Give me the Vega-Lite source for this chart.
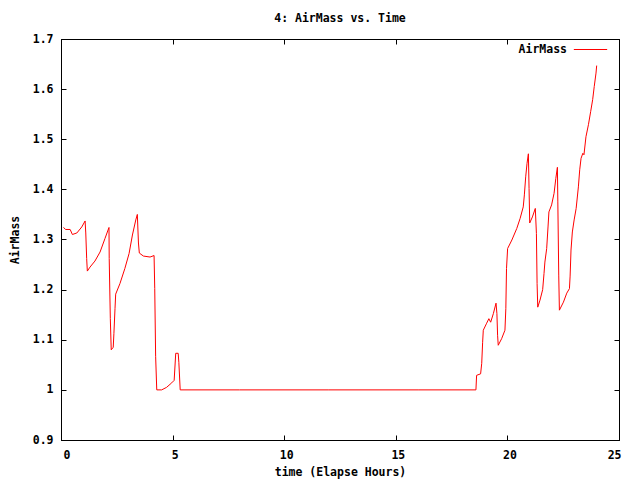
{
  "$schema": "https://vega.github.io/schema/vega-lite/v6.json",
  "width": 558,
  "height": 401,
  "autosize": {"type": "none"},
  "padding": {"left": 61, "top": 39, "right": 21, "bottom": 40},
  "background": "white",
  "title": {"text": "4: AirMass vs. Time", "font": "DejaVu Sans Mono", "fontSize": 11.5, "fontWeight": "bold", "color": "black", "anchor": "middle", "offset": 8},
  "config": {
    "view": {"stroke": "black", "strokeWidth": 1},
    "axis": {"labelFont": "DejaVu Sans Mono", "labelFontSize": 11.5, "labelFontWeight": "bold", "labelColor": "black", "titleFont": "DejaVu Sans Mono", "titleFontSize": 11.5, "titleFontWeight": "bold", "titleColor": "black", "domainColor": "black", "tickColor": "black", "tickSize": -5, "grid": false},
    "legend": {"labelFont": "DejaVu Sans Mono", "labelFontSize": 11.5, "labelFontWeight": "bold", "labelColor": "black"}
  },
  "data": {"values": [
    {"t": 0.11, "v": 1.324}, {"t": 0.21, "v": 1.320}, {"t": 0.41, "v": 1.320}, {"t": 0.51, "v": 1.310},
    {"t": 0.71, "v": 1.313}, {"t": 0.93, "v": 1.325}, {"t": 1.08, "v": 1.337}, {"t": 1.11, "v": 1.313},
    {"t": 1.15, "v": 1.262}, {"t": 1.18, "v": 1.237}, {"t": 1.30, "v": 1.245}, {"t": 1.52, "v": 1.257},
    {"t": 1.75, "v": 1.275}, {"t": 1.97, "v": 1.302}, {"t": 2.15, "v": 1.324}, {"t": 2.16, "v": 1.262},
    {"t": 2.21, "v": 1.142}, {"t": 2.25, "v": 1.080}, {"t": 2.34, "v": 1.085}, {"t": 2.37, "v": 1.112},
    {"t": 2.42, "v": 1.162}, {"t": 2.45, "v": 1.191}, {"t": 2.64, "v": 1.212}, {"t": 2.86, "v": 1.242},
    {"t": 3.05, "v": 1.272}, {"t": 3.20, "v": 1.309}, {"t": 3.35, "v": 1.339}, {"t": 3.42, "v": 1.350},
    {"t": 3.47, "v": 1.293}, {"t": 3.51, "v": 1.273}, {"t": 3.69, "v": 1.267}, {"t": 3.99, "v": 1.265},
    {"t": 4.17, "v": 1.268}, {"t": 4.20, "v": 1.202}, {"t": 4.24, "v": 1.067}, {"t": 4.29, "v": 1.000},
    {"t": 4.51, "v": 1.000}, {"t": 4.73, "v": 1.005}, {"t": 4.96, "v": 1.014}, {"t": 5.07, "v": 1.019},
    {"t": 5.14, "v": 1.073}, {"t": 5.25, "v": 1.073}, {"t": 5.28, "v": 1.055}, {"t": 5.34, "v": 1.000},
    {"t": 8.0, "v": 1.000}, {"t": 12.0, "v": 1.000}, {"t": 16.0, "v": 1.000},
    {"t": 18.59, "v": 1.000}, {"t": 18.62, "v": 1.029}, {"t": 18.80, "v": 1.032}, {"t": 18.85, "v": 1.053},
    {"t": 18.89, "v": 1.095}, {"t": 18.92, "v": 1.119}, {"t": 19.07, "v": 1.133}, {"t": 19.17, "v": 1.142},
    {"t": 19.25, "v": 1.135}, {"t": 19.37, "v": 1.152}, {"t": 19.49, "v": 1.173}, {"t": 19.53, "v": 1.152},
    {"t": 19.56, "v": 1.109}, {"t": 19.59, "v": 1.089}, {"t": 19.74, "v": 1.102}, {"t": 19.89, "v": 1.119},
    {"t": 19.93, "v": 1.162}, {"t": 19.96, "v": 1.242}, {"t": 20.01, "v": 1.282}, {"t": 20.20, "v": 1.299},
    {"t": 20.42, "v": 1.322}, {"t": 20.57, "v": 1.342}, {"t": 20.71, "v": 1.365}, {"t": 20.76, "v": 1.389},
    {"t": 20.82, "v": 1.425}, {"t": 20.88, "v": 1.452}, {"t": 20.94, "v": 1.471}, {"t": 20.97, "v": 1.402},
    {"t": 21.00, "v": 1.333}, {"t": 21.12, "v": 1.345}, {"t": 21.25, "v": 1.362}, {"t": 21.30, "v": 1.312},
    {"t": 21.33, "v": 1.212}, {"t": 21.36, "v": 1.165}, {"t": 21.46, "v": 1.179}, {"t": 21.58, "v": 1.200},
    {"t": 21.64, "v": 1.232}, {"t": 21.68, "v": 1.255}, {"t": 21.76, "v": 1.282}, {"t": 21.82, "v": 1.325},
    {"t": 21.86, "v": 1.355}, {"t": 21.98, "v": 1.369}, {"t": 22.09, "v": 1.392}, {"t": 22.17, "v": 1.422},
    {"t": 22.24, "v": 1.444}, {"t": 22.26, "v": 1.375}, {"t": 22.30, "v": 1.229}, {"t": 22.33, "v": 1.159},
    {"t": 22.51, "v": 1.175}, {"t": 22.66, "v": 1.193}, {"t": 22.78, "v": 1.202}, {"t": 22.81, "v": 1.227},
    {"t": 22.85, "v": 1.279}, {"t": 22.91, "v": 1.315}, {"t": 22.99, "v": 1.339}, {"t": 23.08, "v": 1.362},
    {"t": 23.18, "v": 1.405}, {"t": 23.24, "v": 1.439}, {"t": 23.30, "v": 1.462}, {"t": 23.38, "v": 1.472},
    {"t": 23.43, "v": 1.469}, {"t": 23.52, "v": 1.505}, {"t": 23.63, "v": 1.529}, {"t": 23.73, "v": 1.555},
    {"t": 23.82, "v": 1.579}, {"t": 23.89, "v": 1.605}, {"t": 23.97, "v": 1.632}, {"t": 24.00, "v": 1.647}
  ]},
  "transform": [{"calculate": "'AirMass'", "as": "series"}],
  "layer": [
    {
      "mark": {"type": "line", "strokeWidth": 1, "interpolate": "linear"},
      "encoding": {
        "x": {"field": "t", "type": "quantitative", "scale": {"domain": [0, 25], "nice": false, "zero": false}, "axis": {"title": "time (Elapse Hours)", "values": [0, 5, 10, 15, 20, 25], "labelPadding": 14, "labelOffset": 2, "titlePadding": 6}},
        "y": {"field": "v", "type": "quantitative", "scale": {"domain": [0.9, 1.7], "nice": false, "zero": false}, "axis": {"title": "AirMass", "values": [0.9, 1.0, 1.1, 1.2, 1.3, 1.4, 1.5, 1.6, 1.7], "format": ".1~f", "labelPadding": 13, "titlePadding": 12}},
        "color": {"field": "series", "type": "nominal", "scale": {"range": ["#ff0000"]}, "legend": {"title": null, "orient": "none", "legendX": 512, "legendY": -7, "symbolType": "stroke", "symbolSize": 1111, "symbolStrokeWidth": 1, "labelAlign": "right", "labelOffset": -41, "padding": 0}}
      }
    },
    {
      "mark": {"type": "line", "strokeOpacity": 0},
      "encoding": {
        "x": {"field": "t", "type": "quantitative", "axis": {"orient": "top", "title": null, "labels": false, "values": [0, 5, 10, 15, 20, 25]}},
        "y": {"field": "v", "type": "quantitative", "axis": {"orient": "right", "title": null, "labels": false, "values": [0.9, 1.0, 1.1, 1.2, 1.3, 1.4, 1.5, 1.6, 1.7]}}
      }
    }
  ],
  "resolve": {"axis": {"x": "independent", "y": "independent"}}
}
